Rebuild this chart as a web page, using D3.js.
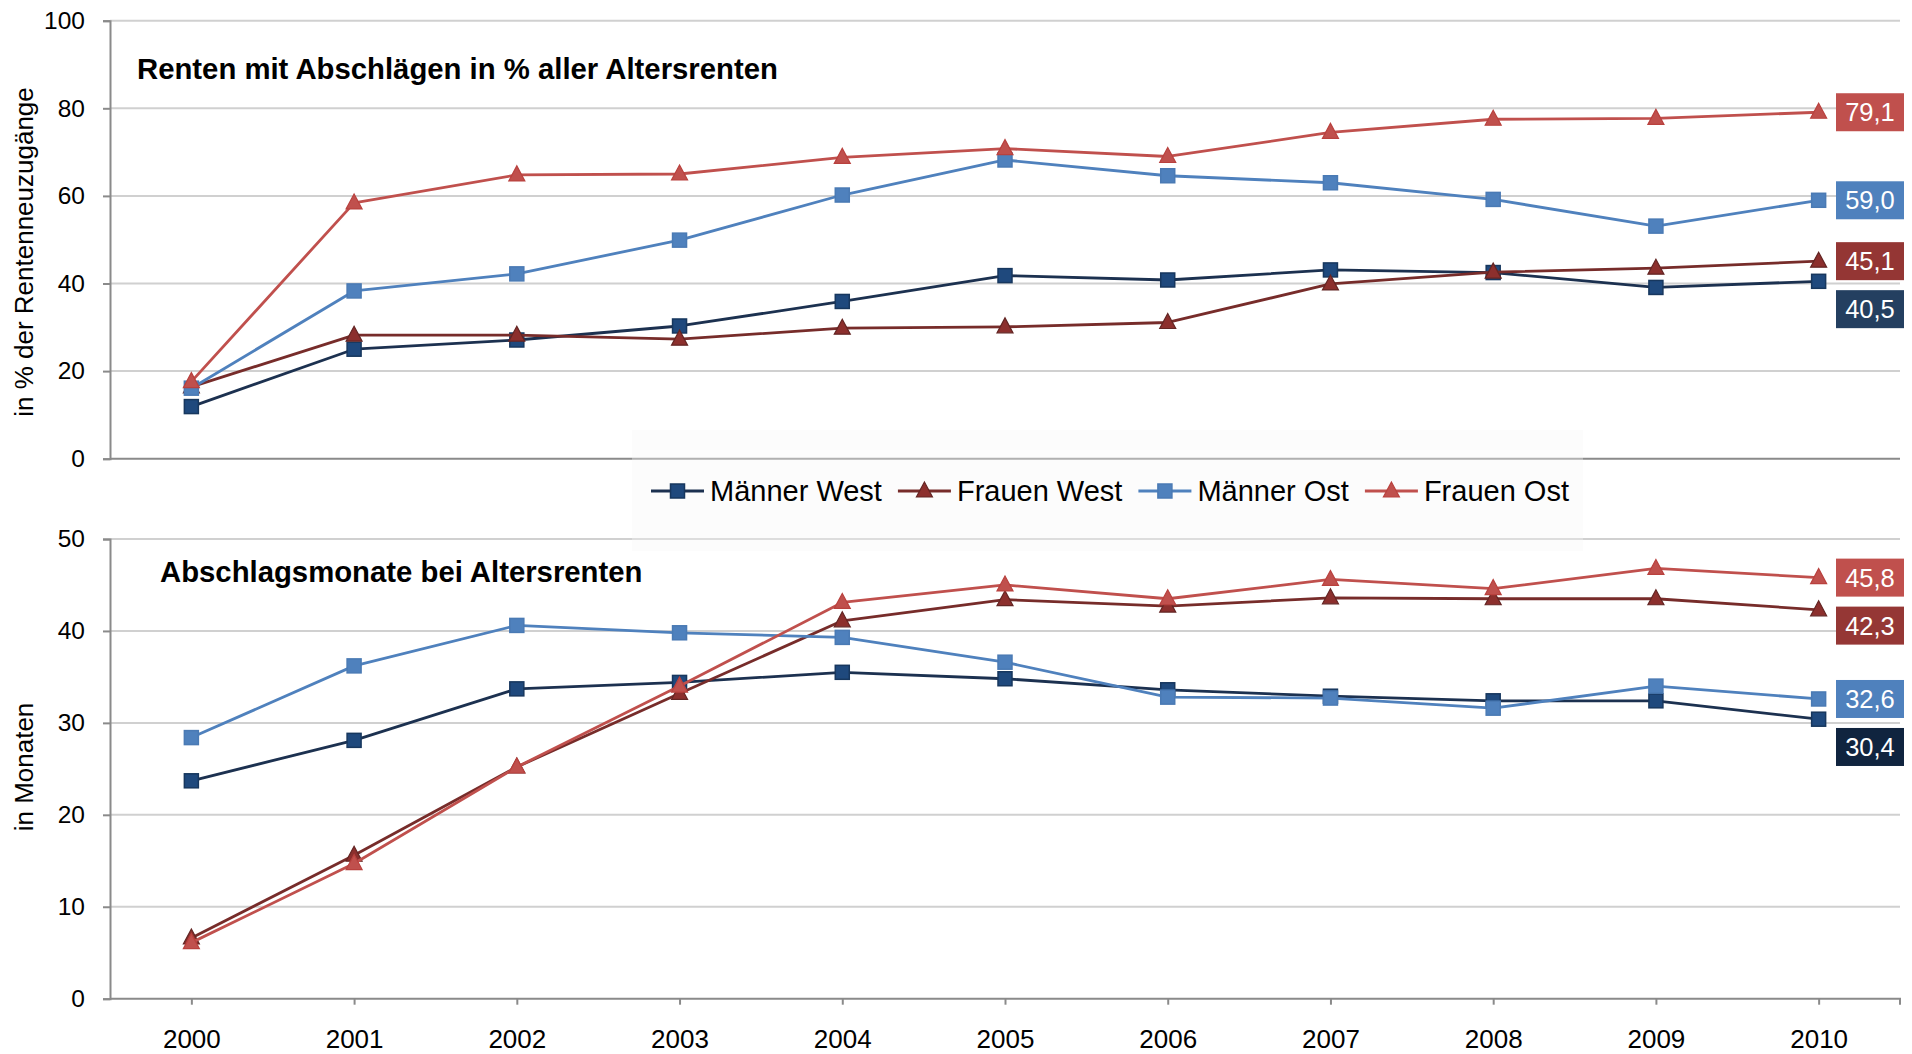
<!DOCTYPE html>
<html>
<head>
<meta charset="utf-8">
<script src="https://cdn.jsdelivr.net/npm/d3@7"></script>
<style>
  html, body { margin: 0; padding: 0; background: #ffffff; }
  svg { display: block; font-family: "Liberation Sans", Arial, sans-serif; }
</style>
</head>
<body>
<div class="chart"></div>
<script>
// data
const years = [2000, 2001, 2002, 2003, 2004, 2005, 2006, 2007, 2008, 2009, 2010];
const seriesNames = ['Männer West', 'Frauen West', 'Männer Ost', 'Frauen Ost'];

// Renten mit Abschlägen in % aller Altersrenten
const pctMaennerWest = [11.9, 25.0, 27.1, 30.3, 35.9, 41.8, 40.8, 43.1, 42.5, 39.1, 40.5];
const pctFrauenWest = [16.4, 28.2, 28.2, 27.3, 29.8, 30.1, 31.1, 39.9, 42.6, 43.5, 45.1];
const pctMaennerOst = [16.1, 38.3, 42.2, 49.9, 60.2, 68.2, 64.6, 63.0, 59.2, 53.1, 59.0];
const pctFrauenOst = [17.6, 58.4, 64.8, 65.0, 68.8, 70.8, 69.0, 74.5, 77.5, 77.7, 79.1];

// Abschlagsmonate bei Altersrenten
const monMaennerWest = [23.7, 28.1, 33.7, 34.4, 35.5, 34.8, 33.6, 32.9, 32.4, 32.4, 30.4];
const monFrauenWest = [6.6, 15.6, 25.2, 33.2, 41.1, 43.4, 42.7, 43.6, 43.5, 43.5, 42.3];
const monMaennerOst = [28.4, 36.2, 40.6, 39.8, 39.3, 36.6, 32.8, 32.7, 31.6, 34.0, 32.6];
const monFrauenOst = [6.1, 14.7, 25.2, 34.0, 43.1, 45.0, 43.5, 45.6, 44.6, 46.8, 45.8];

const pctTicks = [0, 20, 40, 60, 80, 100];
const monTicks = [0, 10, 20, 30, 40, 50];

// styles
const width = 1912;
const height = 1054;
const lineColors = ['#1c3150', '#772c2a', '#4f81bd', '#c0504d'];
const markerFill = ['#1f497d', '#8c2f2d', '#4f81bd', '#c0504d'];
const markerStroke = ['#17375e', '#632523', '#4a7ab4', '#b9413e'];
const markerShape = ['square', 'triangle', 'square', 'triangle'];
const labelFill = {
  top: ['#243f60', '#943634', '#4f81bd', '#c0504d'],
  bottom: ['#10243f', '#953735', '#4f81bd', '#c0504d']
};

const numFmt = d3.formatLocale({ decimal: ',', thousands: '.', grouping: [3], currency: ['', '€'] }).format('.1f');

const svg = d3.select('.chart')
  .append('svg')
  .attr('width', width)
  .attr('height', height);

svg.append('rect').attr('width', width).attr('height', height).attr('fill', '#ffffff');

const x = d3.scaleLinear().domain([1999.5, 2010.5]).range([110, 1900]);

const panels = [
  {
    key: 'top',
    title: 'Renten mit Abschlägen in % aller Altersrenten',
    axisTitle: 'in % der Rentenneuzugänge',
    axisTitleY: 252,
    y: d3.scaleLinear().domain([0, 100]).range([458.7, 20.7]),
    ticks: pctTicks,
    series: [pctMaennerWest, pctFrauenWest, pctMaennerOst, pctFrauenOst],
    titlePos: [137, 79],
    xLabels: false
  },
  {
    key: 'bottom',
    title: 'Abschlagsmonate bei Altersrenten',
    axisTitle: 'in Monaten',
    axisTitleY: 767,
    y: d3.scaleLinear().domain([0, 50]).range([998.7, 539]),
    ticks: monTicks,
    series: [monMaennerWest, monFrauenWest, monMaennerOst, monFrauenOst],
    titlePos: [160, 582],
    xLabels: true
  }
];

function drawMarker(g, shape, cx, cy, i) {
  if (shape === 'square') {
    g.append('rect')
      .attr('x', cx - 7).attr('y', cy - 7)
      .attr('width', 14).attr('height', 14)
      .attr('fill', markerFill[i])
      .attr('stroke', markerStroke[i])
      .attr('stroke-width', 1.5);
  } else {
    g.append('path')
      .attr('d', `M${cx},${cy - 9}L${cx + 8},${cy + 6}L${cx - 8},${cy + 6}Z`)
      .attr('fill', markerFill[i])
      .attr('stroke', markerStroke[i])
      .attr('stroke-width', 1.2);
  }
}

// faint legend backdrop sits under the plots' lines but over the grid
const legendBg = svg.append('g');

panels.forEach(p => {
  const g = svg.append('g').attr('class', `panel-${p.key}`);
  const [y0, y1] = p.y.range();

  // gridlines
  g.selectAll('.grid')
    .data(p.ticks.filter(t => t !== 0))
    .enter().append('line')
    .attr('x1', x.range()[0]).attr('x2', x.range()[1])
    .attr('y1', d => p.y(d)).attr('y2', d => p.y(d))
    .attr('stroke', '#d0d0d0')
    .attr('stroke-width', 2);

  // y axis
  const yAxis = d3.axisLeft(p.y).tickValues(p.ticks).tickSize(7).tickPadding(18);
  const ya = g.append('g')
    .attr('transform', `translate(${x.range()[0]},0)`)
    .call(yAxis);
  ya.select('.domain').attr('stroke', '#8a8a8a').attr('stroke-width', 2);
  ya.selectAll('.tick line').attr('stroke', '#8a8a8a').attr('stroke-width', 2);
  ya.selectAll('.tick text')
    .attr('fill', '#000')
    .style('font-size', '24.5px')
    .style('font-family', '"Liberation Sans", Arial, sans-serif');

  // x axis line
  const xAxis = d3.axisBottom(x)
    .tickValues(p.xLabels ? years : [])
    .tickSize(6)
    .tickPadding(25)
    .tickFormat(d3.format('d'));
  const xa = g.append('g')
    .attr('transform', `translate(0,${y0})`)
    .call(xAxis);
  xa.select('.domain').attr('stroke', '#8a8a8a').attr('stroke-width', 2)
    .attr('d', `M${x.range()[0]},0H${x.range()[1]}${p.xLabels ? 'V6' : ''}`);
  xa.selectAll('.tick line').attr('stroke', '#8a8a8a').attr('stroke-width', 2);
  xa.selectAll('.tick text')
    .attr('fill', '#000')
    .style('font-size', '26px')
    .style('font-family', '"Liberation Sans", Arial, sans-serif');

  // axis title
  g.append('text')
    .attr('transform', `translate(33,${p.axisTitleY}) rotate(-90)`)
    .attr('text-anchor', 'middle')
    .style('font-size', '26px')
    .text(p.axisTitle);

  // panel title
  g.append('text')
    .attr('x', p.titlePos[0]).attr('y', p.titlePos[1])
    .style('font-size', '29.3px')
    .style('font-weight', 'bold')
    .text(p.title);

  // lines
  const line = d3.line()
    .x((d, i) => x(years[i]))
    .y(d => p.y(d));

  p.series.forEach((vals, i) => {
    g.append('path')
      .datum(vals)
      .attr('d', line)
      .attr('fill', 'none')
      .attr('stroke', lineColors[i])
      .attr('stroke-width', 2.8)
      .attr('stroke-linejoin', 'round');
    const mg = g.append('g');
    vals.forEach((v, j) => drawMarker(mg, markerShape[i], x(years[j]), p.y(v), i));
  });

  // end value labels, pushed apart when they would overlap
  const boxH = 38, boxW = 68, minGap = 48;
  const labels = p.series.map((vals, i) => ({
    i, value: vals[vals.length - 1], cy: p.y(vals[vals.length - 1])
  })).sort((a, b) => a.cy - b.cy);
  for (let k = 1; k < labels.length; k++) {
    if (labels[k].cy < labels[k - 1].cy + minGap) labels[k].cy = labels[k - 1].cy + minGap;
  }
  const lg = g.append('g');
  labels.forEach(l => {
    lg.append('rect')
      .attr('x', 1836).attr('y', l.cy - boxH / 2)
      .attr('width', boxW).attr('height', boxH)
      .attr('fill', labelFill[p.key][l.i]);
    lg.append('text')
      .attr('x', 1836 + boxW / 2).attr('y', l.cy)
      .attr('dy', '0.35em')
      .attr('text-anchor', 'middle')
      .attr('fill', '#ffffff')
      .style('font-size', '25.5px')
      .text(numFmt(l.value));
  });
});

// legend
legendBg.raise();
legendBg.append('rect')
  .attr('x', 632).attr('y', 430)
  .attr('width', 951).attr('height', 121)
  .attr('fill', '#f7f7f7')
  .attr('opacity', 0.35);

const legend = svg.append('g').attr('class', 'legend');
let lx = 651;
const ly = 491;
seriesNames.forEach((name, i) => {
  const item = legend.append('g');
  item.append('line')
    .attr('x1', lx).attr('x2', lx + 53)
    .attr('y1', ly).attr('y2', ly)
    .attr('stroke', lineColors[i])
    .attr('stroke-width', 2.8);
  drawMarker(item, markerShape[i], lx + 26.5, ly, i);
  const t = item.append('text')
    .attr('x', lx + 59).attr('y', ly + 10)
    .style('font-size', '29px')
    .text(name);
  lx += 59 + t.node().getComputedTextLength() + 16;
});
</script>
</body>
</html>
